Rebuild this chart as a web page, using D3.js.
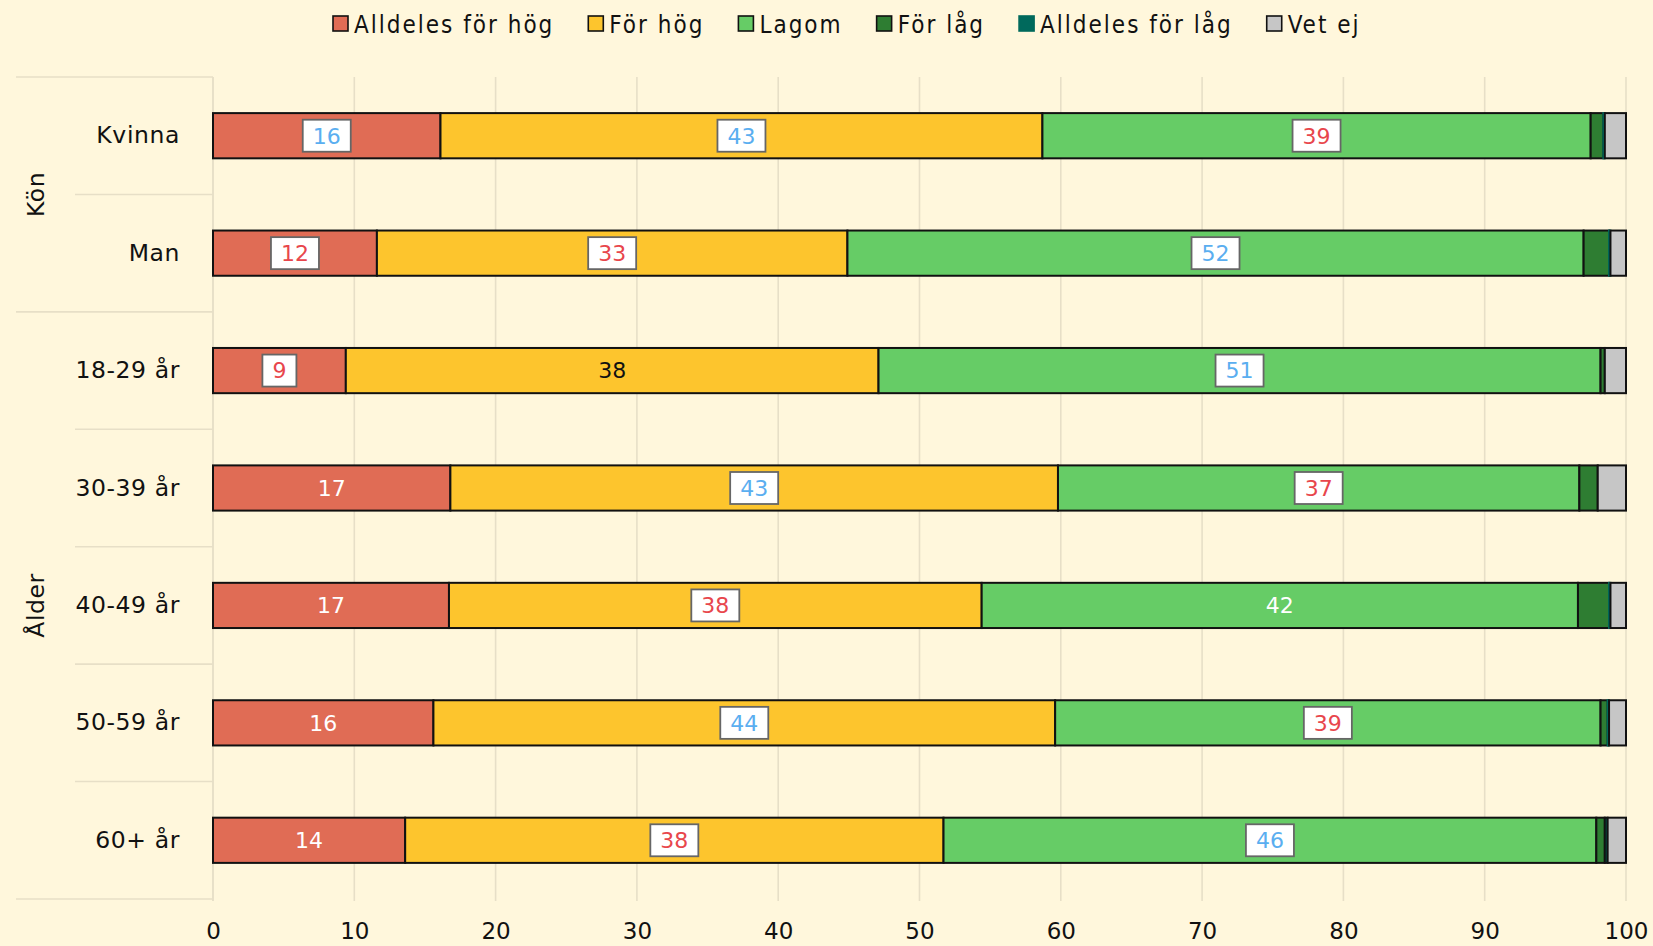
<!DOCTYPE html>
<html><head><meta charset="utf-8">
<script src="https://cdn.jsdelivr.net/npm/d3@7"></script>
<style>
html,body{margin:0;padding:0;background:#FFF7DC;}
svg{display:block;}
</style></head>
<body>
<svg id="chart" width="1653" height="946"></svg>
<script>
const categories = ["Kvinna","Man","18-29 år","30-39 år","40-49 år","50-59 år","60+ år"];
const groupNames = ["Kön","Ålder"];
const groupMembers = [["Kvinna","Man"],["18-29 år","30-39 år","40-49 år","50-59 år","60+ år"]];
const seriesNames = ["Alldeles för hög","För hög","Lagom","För låg","Alldeles för låg","Vet ej"];
const seriesColors = ["#E06C55","#FDC52D","#66CC66","#2E7D32","#00695C","#C6C6C6"];
const alldelesForHog = [16.1, 11.6, 9.4, 16.8, 16.7, 15.6, 13.6];
const forHog        = [42.6, 33.3, 37.7, 43.0, 37.7, 44.0, 38.1];
const lagom         = [38.8, 52.1, 51.1, 36.9, 42.2, 38.6, 46.2];
const forLag        = [0.9, 1.8, 0.3, 1.3, 2.2, 0.5, 0.6];
const alldelesForLag= [0.1, 0.1, 0.0, 0.0, 0.1, 0.1, 0.2];
const vetEj         = [1.5, 1.1, 1.5, 2.0, 1.1, 1.2, 1.3];
const xTicks = [0,10,20,30,40,50,60,70,80,90,100];
// label style per category for first three series: "blue" box, "red" box, "white" plain, "black" plain
const labelStyleHog    = ["blue","red","red","white","white","white","white"];
const labelStyleForHog = ["blue","red","black","blue","red","blue","red"];
const labelStyleLagom  = ["red","blue","blue","red","white","red","blue"];

const seriesValues = [alldelesForHog, forHog, lagom, forLag, alldelesForLag, vetEj];
const labelStyles = [labelStyleHog, labelStyleForHog, labelStyleLagom];

const svg = d3.select("#chart");
const W = 1653, H = 946;
const margin = {left: 213, right: 27, top: 77, bottom: 47};
const x = d3.scaleLinear().domain([0,100]).range([margin.left, W - margin.right]);
const y = d3.scaleBand().domain(categories).range([margin.top, H - margin.bottom]).paddingInner(0.615).paddingOuter(0.3075);
const step = y.step();
const font = "'DejaVu Sans', sans-serif";
const gridColor = "#E7DFC7";

// gridlines
svg.append("g").selectAll("line").data(xTicks).join("line")
  .attr("x1", d => x(d)).attr("x2", d => x(d))
  .attr("y1", margin.top).attr("y2", H - margin.bottom + 2)
  .attr("stroke", gridColor).attr("stroke-width", 1.6);

// category separators
const rangeTop = margin.top, rangeBot = H - margin.bottom;
const sepG = svg.append("g");
const boundaries = d3.range(categories.length + 1).map(i => rangeTop + i * step);
let groupStartIdx = [0];
groupMembers.forEach((m, i) => groupStartIdx.push(groupStartIdx[i] + m.length));
boundaries.forEach((b, i) => {
  const isGroupEdge = groupStartIdx.includes(i);
  sepG.append("line")
    .attr("x1", isGroupEdge ? 16 : 75).attr("x2", margin.left)
    .attr("y1", b).attr("y2", b)
    .attr("stroke", gridColor).attr("stroke-width", 1.6);
});

// x axis tick labels
const xAxis = d3.axisBottom(x).tickValues(xTicks).tickSize(0).tickPadding(0);
const xg = svg.append("g").attr("transform", `translate(0,${H - margin.bottom})`).call(xAxis);
xg.select(".domain").remove();
xg.selectAll("text").attr("font-family", font).attr("font-size", 23).attr("fill", "#111")
  .attr("dy", null).attr("y", 40);

// y axis category labels
const yAxis = d3.axisLeft(y).tickSize(0).tickPadding(0);
const yg = svg.append("g").attr("transform", `translate(${margin.left - 33},0)`).call(yAxis);
yg.select(".domain").remove();
yg.selectAll("text").attr("font-family", font).attr("font-size", 23.5).attr("fill", "#111")
  .attr("letter-spacing", 0.6);

// group labels
groupNames.forEach((g, i) => {
  const y0 = rangeTop + groupStartIdx[i] * step, y1 = rangeTop + groupStartIdx[i+1] * step;
  const cy = (y0 + y1) / 2;
  svg.append("text").text(g)
    .attr("transform", `translate(44,${cy}) rotate(-90)`)
    .attr("text-anchor", "middle")
    .attr("font-family", font).attr("font-size", 23.5).attr("fill", "#111").attr("letter-spacing", 0.6);
});

// y axis line
svg.append("line").attr("x1", margin.left).attr("x2", margin.left)
  .attr("y1", margin.top).attr("y2", H - margin.bottom + 2)
  .attr("stroke", gridColor).attr("stroke-width", 1.6);

// stacked data
const rows = categories.map((c, i) => {
  const o = {cat: c};
  seriesNames.forEach((s, j) => o[s] = seriesValues[j][i]);
  return o;
});
const stack = d3.stack().keys(seriesNames)(rows);

const barG = svg.append("g");
stack.forEach((layer, j) => {
  barG.append("g").selectAll("rect").data(layer).join("rect")
    .attr("x", d => x(d[0]))
    .attr("width", d => Math.max(0, x(d[1]) - x(d[0])))
    .attr("y", d => y(d.data.cat))
    .attr("height", y.bandwidth())
    .attr("fill", seriesColors[j])
    .attr("stroke", d => (d[1]-d[0]) < 0.15 ? seriesColors[j] : "#111")
    .attr("stroke-width", d => (d[1]-d[0]) === 0 ? 0 : 2);
});

// labels
const labG = svg.append("g");
stack.slice(0,3).forEach((layer, j) => {
  layer.forEach((d, i) => {
    const style = labelStyles[j][i];
    const cx = (x(d[0]) + x(d[1])) / 2;
    const cy = y(d.data.cat) + y.bandwidth() / 2;
    const txt = String(Math.round(d[1] - d[0]));
    const g = labG.append("g");
    const t = g.append("text").text(txt)
      .attr("x", cx).attr("y", cy).attr("dy", "0.36em")
      .attr("text-anchor", "middle")
      .attr("font-family", font).attr("font-size", 22)
      .attr("fill", style === "blue" ? "#5AAEF0" : style === "red" ? "#E8464C" : style === "white" ? "#FFFFFF" : "#111");
    if (style === "blue" || style === "red") {
      const tw = t.node().getComputedTextLength();
      const bw = tw + 20, bh = 32;
      g.insert("rect", "text")
        .attr("x", cx - bw/2).attr("y", cy - bh/2)
        .attr("width", bw).attr("height", bh)
        .attr("fill", "#FFFFFF").attr("stroke", "#666").attr("stroke-width", 1.8);
    }
  });
});

// legend
const legG = svg.append("g");
let lx = 333;
const ly = 24;
seriesNames.forEach((s, j) => {
  const it = legG.append("g");
  it.append("rect").attr("x", lx).attr("y", ly - 8).attr("width", 15).attr("height", 15)
    .attr("fill", seriesColors[j]).attr("stroke", j === 4 ? seriesColors[j] : "#111").attr("stroke-width", 1.6);
  const t = it.append("text").text(s).attr("x", lx + 21).attr("y", ly).attr("dy", "0.36em")
    .attr("font-family", "'DejaVu Sans Condensed', 'DejaVu Sans', sans-serif")
    .attr("font-stretch", "condensed")
    .attr("font-size", 24).attr("letter-spacing", 2.0).attr("fill", "#111");
  lx += 21 + t.node().getComputedTextLength() + 34;
});
</script>
</body></html>
